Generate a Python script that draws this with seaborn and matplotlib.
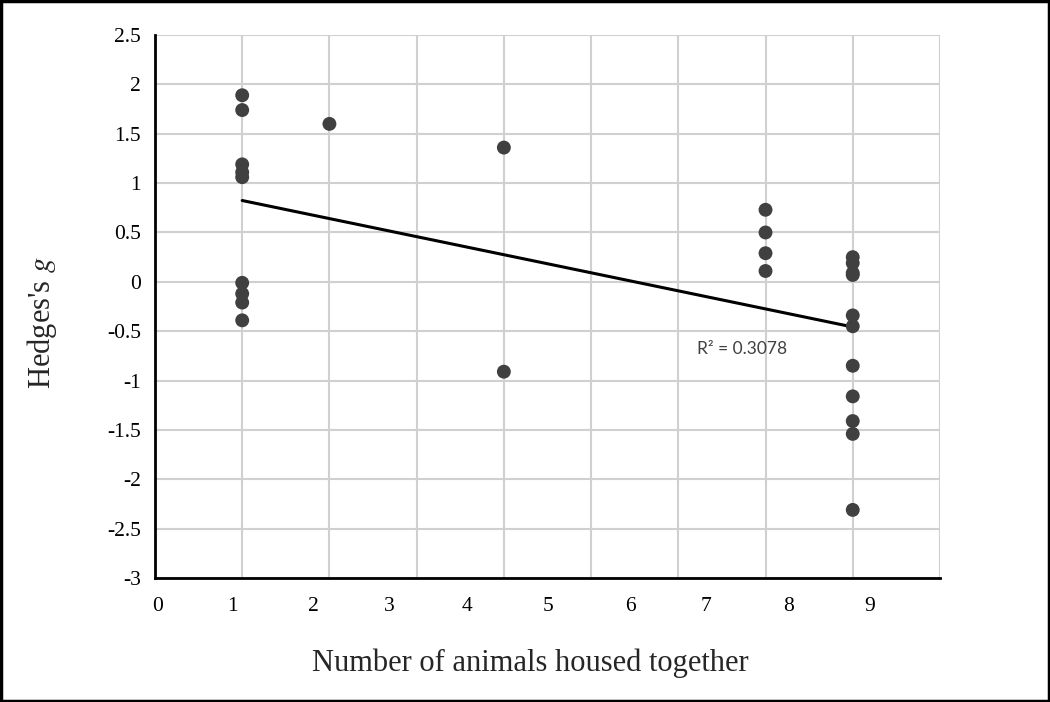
import numpy as np
import pandas as pd
import matplotlib
matplotlib.use("Agg")
import matplotlib.pyplot as plt
import matplotlib.patches as patches
import seaborn as sns

# values
group_1 = [1.89, 1.74, 1.19, 1.11, 1.06, -0.01, -0.12, -0.21, -0.39]
group_2 = [1.60]
group_4 = [1.36, -0.91]
group_7 = [0.73, 0.50, 0.29, 0.11]
group_8 = [0.25, 0.19, 0.09, 0.07, -0.34, -0.45, -0.85, -1.16, -1.41, -1.54, -2.31]
groups = {1: group_1, 2: group_2, 4: group_4, 7: group_7, 8: group_8}

# the tick labels in the source sit a little off the grid lines
x_tick_labels = ["0", "1", "2", "3", "4", "5", "6", "7", "8", "9"]
x_tick_pos = [0.03, 0.89, 1.82, 2.69, 3.58, 4.51, 5.45, 6.32, 7.26, 8.19]
y_ticks = [2.5, 2, 1.5, 1, 0.5, 0, -0.5, -1, -1.5, -2, -2.5, -3]
r2_label = "R² = 0.3078"

rows = []
for n, vals in groups.items():
    for v in vals:
        rows.append({"animals": n, "g": v})
df = pd.DataFrame(rows)

sns.set_style("white")
plt.rcParams["font.family"] = ["Liberation Serif", "DejaVu Serif"]
plt.rcParams["mathtext.fontset"] = "stix"

fig = plt.figure(figsize=(10.5, 7.02), dpi=100)
ax = fig.add_axes([0.1476, 0.1766, 0.7476, 0.7735])

sns.regplot(data=df, x="animals", y="g", scatter=False, ci=None, ax=ax,
            line_kws={"color": "black", "lw": 2.2, "zorder": 3})
sns.scatterplot(data=df, x="animals", y="g", ax=ax, color="#404040", s=100,
                edgecolor="none", zorder=4)

ax.set_xlim(0, 9)
ax.set_ylim(-3, 2.5)
ax.set_xticks(range(10), minor=True)
ax.set_xticks(x_tick_pos, x_tick_labels)
ax.set_yticks(y_ticks, [f"{t:g}" for t in y_ticks])
ax.grid(which="minor", axis="x", color="#d0d0d0", lw=1.5)
ax.grid(which="major", axis="y", color="#d0d0d0", lw=1.5)
ax.grid(which="major", axis="x", visible=False)
ax.set_axisbelow(True)
ax.tick_params(axis="both", which="both", length=0, labelsize=15.5, colors="black")
ax.tick_params(axis="x", pad=14)
ax.tick_params(axis="y", pad=10)

for side in ["top", "right"]:
    ax.spines[side].set_visible(False)
for side in ["left", "bottom"]:
    ax.spines[side].set_color("black")
    ax.spines[side].set_linewidth(2)

ax.set_xlabel("Number of animals housed together", fontsize=22)
ax.set_ylabel("Hedges's $\\it{g}$", fontsize=22)
ax.xaxis.set_label_coords(0.478, -0.13)
ax.yaxis.set_label_coords(-0.122, 0.47)

ax.text(6.22, -0.68, r2_label, fontsize=12.5, color="#404040",
        family=["Lato", "DejaVu Sans"], va="center", ha="left")

fig.patches.append(patches.Rectangle((0.001, 0.001), 0.998, 0.998,
                                     transform=fig.transFigure, fill=False,
                                     edgecolor="black", lw=2.5))

fig.savefig("out.png", dpi=100)
